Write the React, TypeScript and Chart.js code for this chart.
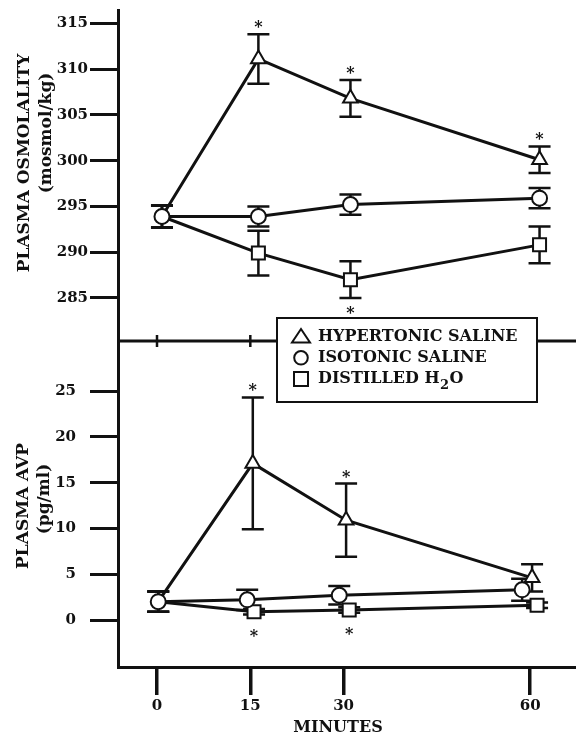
import React, { useEffect, useRef } from 'react';
import { Chart, registerables } from 'chart.js';

Chart.register(...registerables);

const INK = '#111';
const FONT = "'DejaVu Serif', 'Liberation Serif', serif";

// Axis ticks
const minuteTicks = [0, 15, 30, 60];
const osmTicks = [285, 290, 295, 300, 305, 310, 315];
const avpTicks = [0, 5, 10, 15, 20, 25];

// Top panel: plasma osmolality (mosmol/kg), mean and SE
const osmTime = [0.8, 16.3, 31.1, 61.5];
const osmHyper = [293.9, 311.1, 306.8, 300.1];
const osmHyperErr = [1.2, 2.7, 2.0, 1.45];
const osmIso = [293.9, 293.9, 295.2, 295.9];
const osmIsoErr = [1.2, 1.1, 1.1, 1.1];
const osmWater = [293.9, 289.9, 287.0, 290.8];
const osmWaterErr = [1.2, 2.45, 2.0, 2.0];

// Bottom panel: plasma AVP (pg/ml), mean and SE
const avpHyperTime = [0.2, 15.4, 30.4, 60.3];
const avpIsoTime = [0.2, 14.5, 29.3, 58.7];
const avpWaterTime = [0.2, 15.6, 30.9, 61.1];
const avpHyper = [2.0, 17.1, 10.9, 4.6];
const avpHyperErr = [1.1, 7.2, 4.0, 1.5];
const avpIso = [2.0, 2.2, 2.7, 3.3];
const avpIsoErr = [1.1, 1.1, 1.0, 1.2];
const avpWater = [2.0, 0.9, 1.1, 1.6];
const avpWaterErr = [1.1, 0.3, 0.3, 0.3];

// Significance asterisks: 1 = above, -1 = below, 0 = none
const osmHyperSig = [0, 1, 1, 1];
const osmIsoSig = [0, 0, 0, 0];
const osmWaterSig = [0, 0, -1, 0];
const avpHyperSig = [0, 1, 1, 0];
const avpIsoSig = [0, 0, 0, 0];
const avpWaterSig = [0, -1, -1, 0];

const legendLabels = ['HYPERTONIC SALINE', 'ISOTONIC SALINE', 'DISTILLED H₂O'];
const osmTitle = ['PLASMA OSMOLALITY', '(mosmol/kg)'];
const avpTitle = ['PLASMA AVP', '(pg/ml)'];
const xTitle = 'MINUTES';

const STYLES = ['triangle', 'circle', 'rect'];
const RADII = [8.5, 7.5, 9.2];

function makeSet(idx: number, axis: string, time: number[], vals: number[], errs: number[], sig: number[]) {
  const style = STYLES[idx];
  const r = RADII[idx];
  return {
    label: legendLabels[idx],
    data: time.map((t, i) => ({ x: t, y: vals[i] })),
    errors: errs,
    sig,
    yAxisID: axis,
    order: idx === 1 ? 0 : 1,
    borderColor: INK,
    borderWidth: 3,
    tension: 0,
    fill: false,
    pointStyle: style,
    pointRadius: (c: any) => (idx !== 1 && c.dataIndex === 0 ? 0 : r),
    pointHoverRadius: (c: any) => (idx !== 1 && c.dataIndex === 0 ? 0 : r),
    pointBackgroundColor: '#fff',
    pointBorderColor: INK,
    pointBorderWidth: 2,
  };
}

function drawSymbol(ctx: CanvasRenderingContext2D, style: string, x: number, y: number) {
  ctx.beginPath();
  if (style === 'triangle') {
    ctx.moveTo(x, y - 7.5);
    ctx.lineTo(x + 9, y + 6);
    ctx.lineTo(x - 9, y + 6);
    ctx.closePath();
  } else if (style === 'circle') {
    ctx.arc(x, y, 6.8, 0, Math.PI * 2);
  } else {
    ctx.rect(x - 7, y - 7, 14, 14);
  }
  ctx.fillStyle = '#fff';
  ctx.fill();
  ctx.stroke();
}

function drawRotated(ctx: CanvasRenderingContext2D, text: string, cx: number, cy: number, size: number) {
  ctx.save();
  ctx.translate(cx, cy);
  ctx.rotate(-Math.PI / 2);
  ctx.font = `bold ${size}px ${FONT}`;
  ctx.textAlign = 'center';
  ctx.textBaseline = 'middle';
  ctx.fillStyle = INK;
  ctx.fillText(text, 0, 0);
  ctx.restore();
}

const panelDecor = {
  id: 'panelDecor',
  beforeDatasetsDraw(chart: any) {
    const { ctx } = chart;
    const xs = chart.scales.x;
    ctx.save();
    ctx.strokeStyle = INK;
    ctx.lineWidth = 2.5;
    chart.data.datasets.forEach((ds: any) => {
      const ys = chart.scales[ds.yAxisID];
      ds.data.forEach((p: any, i: number) => {
        const e = ds.errors[i];
        if (!e) return;
        const x = xs.getPixelForValue(p.x);
        const yHi = ys.getPixelForValue(p.y + e);
        const yLo = ys.getPixelForValue(p.y - e);
        ctx.beginPath();
        ctx.moveTo(x, yHi);
        ctx.lineTo(x, yLo);
        ctx.moveTo(x - 11, yHi);
        ctx.lineTo(x + 11, yHi);
        ctx.moveTo(x - 11, yLo);
        ctx.lineTo(x + 11, yLo);
        ctx.stroke();
      });
    });
    ctx.restore();
  },
  afterDatasetsDraw(chart: any) {
    const { ctx } = chart;
    const xs = chart.scales.x;
    ctx.save();
    ctx.fillStyle = INK;
    ctx.font = `bold 16px ${FONT}`;
    ctx.textAlign = 'center';
    ctx.textBaseline = 'alphabetic';
    chart.data.datasets.forEach((ds: any) => {
      const ys = chart.scales[ds.yAxisID];
      ds.data.forEach((p: any, i: number) => {
        const s = ds.sig[i];
        if (!s) return;
        const e = ds.errors[i];
        const x = xs.getPixelForValue(p.x);
        const yc = ys.getPixelForValue(p.y);
        let y;
        if (s > 0) y = Math.min(ys.getPixelForValue(p.y + e), yc - 9) - 11;
        else y = Math.max(ys.getPixelForValue(p.y - e), yc + 9) + 11;
        ctx.fillText('*', x, y + 9);
      });
    });
    ctx.restore();
  },
  afterDraw(chart: any) {
    const { ctx, chartArea } = chart;
    const xs = chart.scales.x;
    const yMid = chart.scales.yTop.bottom;
    ctx.save();
    ctx.strokeStyle = INK;
    // dividing line between panels with minute ticks
    ctx.lineWidth = 3;
    ctx.beginPath();
    ctx.moveTo(chartArea.left, yMid);
    ctx.lineTo(chartArea.right, yMid);
    ctx.stroke();
    ctx.lineWidth = 2.5;
    minuteTicks.forEach((t) => {
      const x = xs.getPixelForValue(t);
      ctx.beginPath();
      ctx.moveTo(x, yMid - 6);
      ctx.lineTo(x, yMid + 6);
      ctx.stroke();
    });

    // legend box
    const bx = 277, by = 318, bw = 260, bh = 84;
    ctx.fillStyle = '#fff';
    ctx.fillRect(bx, by, bw, bh);
    ctx.lineWidth = 2;
    ctx.strokeRect(bx, by, bw, bh);
    legendLabels.forEach((label, i) => {
      const cy = by + 18.5 + i * 21.3;
      ctx.lineWidth = 2;
      ctx.strokeStyle = INK;
      drawSymbol(ctx, STYLES[i], 301, cy);
      ctx.fillStyle = INK;
      ctx.textAlign = 'left';
      ctx.textBaseline = 'middle';
      ctx.font = `bold 16px ${FONT}`;
      const parts = label.split('₂');
      let x = 318;
      ctx.fillText(parts[0], x, cy);
      if (parts.length > 1) {
        x += ctx.measureText(parts[0]).width;
        ctx.font = `bold 13px ${FONT}`;
        ctx.fillText('2', x + 0.5, cy + 7);
        x += ctx.measureText('2').width + 1;
        ctx.font = `bold 16px ${FONT}`;
        ctx.fillText(parts[1], x, cy);
      }
    });

    // axis titles
    drawRotated(ctx, osmTitle[0], 25, 163, 17);
    drawRotated(ctx, osmTitle[1], 47, 133, 17);
    drawRotated(ctx, avpTitle[0], 24, 506, 17);
    drawRotated(ctx, avpTitle[1], 45, 499, 17);
    ctx.font = `bold 16px ${FONT}`;
    ctx.textAlign = 'center';
    ctx.textBaseline = 'middle';
    ctx.fillStyle = INK;
    ctx.fillText(xTitle, 338, 728);
    ctx.restore();
  },
};

const tickFont = { family: FONT, size: 15, weight: 'bold' as const };

const fixY = (s: any) => {
  s.width = 118;
  s.paddingTop = 0;
  s.paddingBottom = 0;
};

export default function App() {
  const canvasRef = useRef<HTMLCanvasElement | null>(null);

  useEffect(() => {
    const canvas = canvasRef.current;
    if (!canvas) return;
    const datasets = [
      makeSet(0, 'yTop', osmTime, osmHyper, osmHyperErr, osmHyperSig),
      makeSet(1, 'yTop', osmTime, osmIso, osmIsoErr, osmIsoSig),
      makeSet(2, 'yTop', osmTime, osmWater, osmWaterErr, osmWaterSig),
      makeSet(0, 'yBot', avpHyperTime, avpHyper, avpHyperErr, avpHyperSig),
      makeSet(1, 'yBot', avpIsoTime, avpIso, avpIsoErr, avpIsoSig),
      makeSet(2, 'yBot', avpWaterTime, avpWater, avpWaterErr, avpWaterSig),
    ];
    const gridOpts = {
      display: true,
      drawOnChartArea: false,
      drawTicks: true,
      tickLength: 28,
      lineWidth: 3,
      color: INK,
    };
    const chart = new Chart(canvas, {
      type: 'line',
      data: { datasets: datasets as any },
      options: {
        responsive: false,
        animation: false,
        events: [],
        layout: { padding: { top: 10, left: 0, right: 0, bottom: 0 }, autoPadding: false },
        plugins: { legend: { display: false }, tooltip: { enabled: false } },
        scales: {
          x: {
            type: 'linear',
            position: 'bottom',
            min: -6.27,
            max: 67.36,
            afterBuildTicks: (s: any) => {
              s.ticks = minuteTicks.map((v) => ({ value: v }));
            },
            afterFit: (s: any) => {
              s.height = 73;
              s.paddingLeft = 0;
              s.paddingRight = 0;
            },
            grid: { ...gridOpts, lineWidth: 3.5 },
            border: { display: true, width: 3, color: INK },
            ticks: { color: INK, font: tickFont, padding: 2, maxRotation: 0, autoSkip: false },
          },
          yBot: {
            type: 'linear',
            position: 'left',
            stack: 'panels',
            stackWeight: 326,
            min: -5.13,
            max: 30.46,
            afterBuildTicks: (s: any) => {
              s.ticks = avpTicks.map((v) => ({ value: v }));
            },
            afterFit: fixY,
            grid: gridOpts,
            border: { display: true, width: 3, color: INK },
            ticks: { color: INK, font: tickFont, padding: 14 },
          },
          yTop: {
            type: 'linear',
            position: 'left',
            stack: 'panels',
            stackWeight: 331,
            min: 280.3,
            max: 316.45,
            afterBuildTicks: (s: any) => {
              s.ticks = osmTicks.map((v) => ({ value: v }));
            },
            afterFit: fixY,
            grid: gridOpts,
            border: { display: true, width: 3, color: INK },
            ticks: { color: INK, font: tickFont, padding: 2 },
          },
        },
      } as any,
      plugins: [panelDecor],
    });
    return () => chart.destroy();
  }, []);

  return (
    <div style={{ position: 'fixed', left: 0, top: 0, width: 576, height: 740, background: '#fff' }}>
      <canvas ref={canvasRef} width={576} height={740} style={{ display: 'block' }} />
    </div>
  );
}
